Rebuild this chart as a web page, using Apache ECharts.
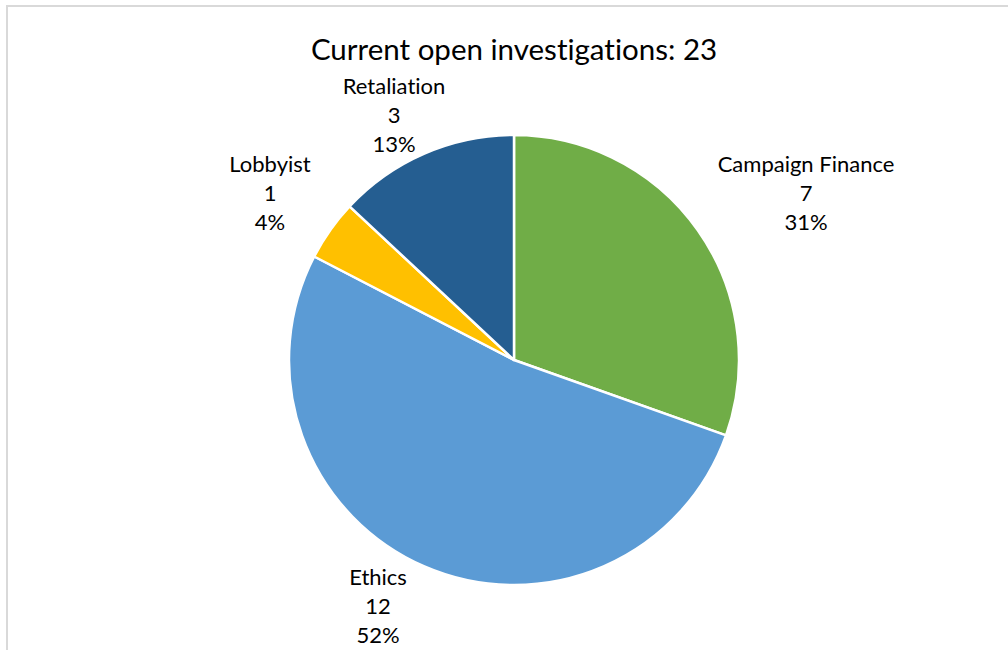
<!DOCTYPE html>
<html>
<head>
<meta charset="utf-8">
<style>
html,body{margin:0;padding:0;background:#fff;}
#chart{width:1008px;height:650px;}
#chart text{font-variant-ligatures:none;font-feature-settings:"liga" 0,"clig" 0;}
</style>
<script src="https://cdn.jsdelivr.net/npm/echarts@6/dist/echarts.min.js"></script>
</head>
<body>
<div id="chart"></div>
<script>
const titleText = 'Current open investigations: 23';
const categories = ['Campaign Finance', 'Ethics', 'Lobbyist', 'Retaliation'];
const values = [7, 12, 1, 3];
const colors = ['#70AD47', '#5B9BD5', '#FFC000', '#255E91'];
// label centre positions (px) in the same order as categories
const labelPos = [[806, 192], [378, 605], [270, 192], [394, 114]];

const chart = echarts.init(document.getElementById('chart'), null, { renderer: 'svg' });
chart.setOption({
  backgroundColor: '#fff',
  animation: false,
  graphic: [{
    type: 'rect', silent: true,
    shape: { x: 7, y: 6, width: 1100, height: 800 },
    style: { fill: 'none', stroke: '#d9d9d9', lineWidth: 2 }
  }],
  title: {
    text: titleText,
    left: 509, top: 28, textAlign: 'center',
    textStyle: { fontFamily: 'Lato', fontSize: 29.5, fontWeight: 'normal', color: '#000' }
  },
  series: [{
    type: 'pie',
    center: [514, 360],
    radius: 225,
    startAngle: 90,
    clockwise: true,
    percentPrecision: 0,
    data: categories.map((c, i) => ({ name: c, value: values[i], itemStyle: { color: colors[i] } })),
    itemStyle: { borderColor: '#fff', borderWidth: 2.5 },
    label: {
      show: true, position: 'outside',
      formatter: '{b}\n{c}\n{d}%',
      fontFamily: 'Lato', fontSize: 22, lineHeight: 29, color: '#000', align: 'center'
    },
    labelLine: { show: false },
    labelLayout: function (p) {
      const pos = labelPos[p.dataIndex];
      return { x: pos[0], y: pos[1], align: 'center', verticalAlign: 'middle', hideOverlap: false };
    },
    emphasis: { disabled: true }
  }]
});
</script>
</body>
</html>
